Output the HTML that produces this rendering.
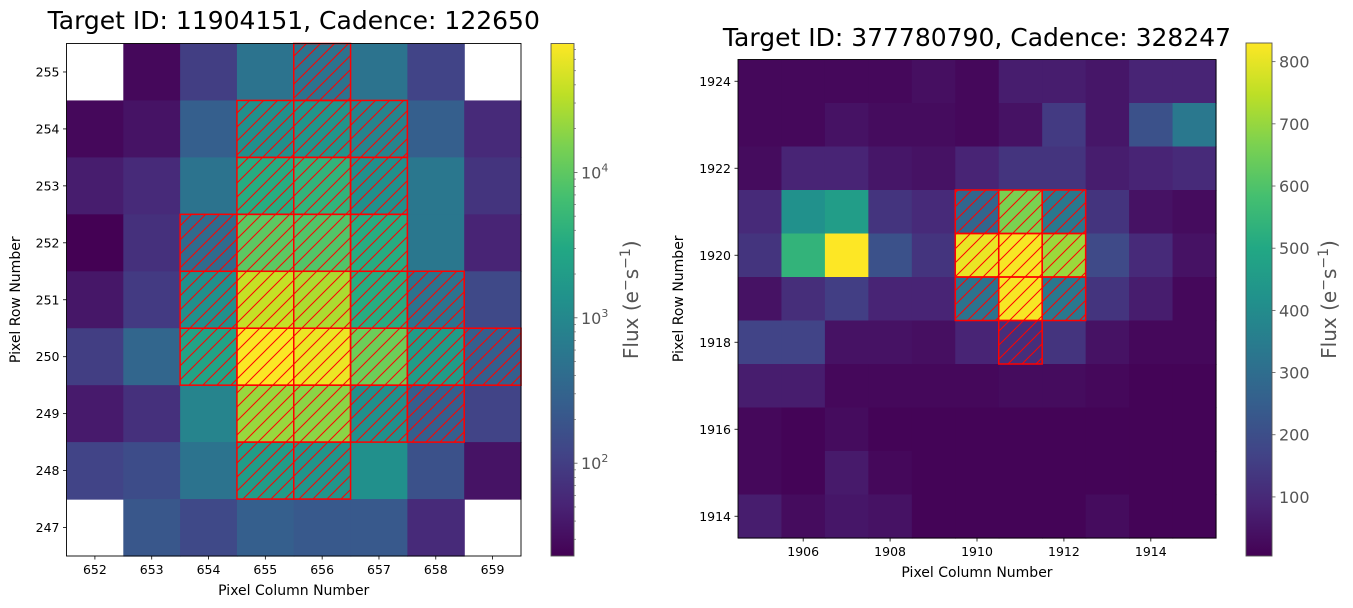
<!DOCTYPE html>
<html><head><meta charset="utf-8">
<style>
html,body{margin:0;padding:0;background:#fff;}
svg{display:block;font-family:"DejaVu Sans","Liberation Sans",sans-serif;}
</style></head>
<body>
<svg id="fig" width="1353" height="608" viewBox="0 0 1353 608" xmlns="http://www.w3.org/2000/svg">
<defs>
<pattern id="hatch" patternUnits="userSpaceOnUse" width="14" height="14">
<path d="M-1,1 L1,-1 M0,14 L14,0 M13,15 L15,13" stroke="#ff0000" stroke-width="1"/>
</pattern>
<linearGradient id="vir" x1="0" y1="1" x2="0" y2="0">
<stop offset="0" stop-color="#440154"/><stop offset="0.1" stop-color="#482475"/><stop offset="0.2" stop-color="#414487"/><stop offset="0.3" stop-color="#355f8d"/><stop offset="0.4" stop-color="#2a788e"/><stop offset="0.5" stop-color="#21918c"/><stop offset="0.6" stop-color="#22a884"/><stop offset="0.7" stop-color="#44bf70"/><stop offset="0.8" stop-color="#7ad151"/><stop offset="0.9" stop-color="#bddf26"/><stop offset="1" stop-color="#fde725"/>
</linearGradient>
</defs>
<g id="left"></g>
<g id="right"></g>
</svg>
<script>
// ---- Left panel data (log scale) ----
const leftCols = [652,653,654,655,656,657,658,659];
const leftRows = [255,254,253,252,251,250,249,248,247];
const leftFlux = [
 [null,27,99,500,500,500,117,null],
 [27,35,260,1300,1530,870,260,61],
 [44,61,500,3400,4400,1300,580,78],
 [23,71,390,9800,8300,3400,580,52],
 [38,91,1300,38000,27800,3400,500,137],
 [99,330,2500,75000,62000,12400,1950,260],
 [41,71,870,21800,18600,1300,260,117],
 [117,148,500,1950,1530,1300,174,35],
 [null,204,137,260,221,221,61,null]
];
const leftMask = [
 [0,0,0,0,1,0,0,0],
 [0,0,0,1,1,1,0,0],
 [0,0,0,1,1,1,0,0],
 [0,0,1,1,1,1,0,0],
 [0,0,1,1,1,1,1,0],
 [0,0,1,1,1,1,1,1],
 [0,0,0,1,1,1,1,0],
 [0,0,0,1,1,0,0,0],
 [0,0,0,0,0,0,0,0]
];
const leftCbTicks = [100,1000,10000];
const leftCbTickLabels = ["10","10","10"];
const leftCbTickExp = ["2","3","4"];
// ---- Right panel data (linear) ----
const rightCols = [1905,1906,1907,1908,1909,1910,1911,1912,1913,1914,1915];
const rightRows = [1924,1923,1922,1921,1920,1919,1918,1917,1916,1915,1914];
const rightFlux = [
 [22,22,22,22,38,22,71,71,55,88,88],
 [22,22,46,30,30,22,46,145,55,211,335],
 [30,88,88,55,46,88,129,129,71,88,104],
 [104,418,459,129,104,277,665,335,129,46,30],
 [129,541,830,211,129,805,822,706,187,104,46],
 [46,112,154,88,88,319,822,335,129,71,22],
 [170,170,46,46,38,88,112,129,46,22,22],
 [71,71,22,22,22,22,30,30,22,13,13],
 [22,13,30,13,13,13,13,13,13,13,13],
 [22,13,63,22,13,13,13,13,13,13,13],
 [71,30,55,46,13,13,13,13,30,13,13]
];
const rightMask = [
 [0,0,0,0,0,0,0,0,0,0,0],
 [0,0,0,0,0,0,0,0,0,0,0],
 [0,0,0,0,0,0,0,0,0,0,0],
 [0,0,0,0,0,1,1,1,0,0,0],
 [0,0,0,0,0,1,1,1,0,0,0],
 [0,0,0,0,0,1,1,1,0,0,0],
 [0,0,0,0,0,0,1,0,0,0,0],
 [0,0,0,0,0,0,0,0,0,0,0],
 [0,0,0,0,0,0,0,0,0,0,0],
 [0,0,0,0,0,0,0,0,0,0,0],
 [0,0,0,0,0,0,0,0,0,0,0]
];
const rightXTicks = [1906,1908,1910,1912,1914];
const rightYTicks = [1924,1922,1920,1918,1916,1914];
const rightCbTicks = [100,200,300,400,500,600,700,800];

const NS="http://www.w3.org/2000/svg";
const VS=["#440154","#482475","#414487","#355f8d","#2a788e","#21918c","#22a884","#44bf70","#7ad151","#bddf26","#fde725"];
function hex(h){return [parseInt(h.substr(1,2),16),parseInt(h.substr(3,2),16),parseInt(h.substr(5,2),16)];}
function viridis(t){t=Math.max(0,Math.min(1,t));const f=t*10;const i=Math.min(9,Math.floor(f));const u=f-i;const a=hex(VS[i]),b=hex(VS[i+1]);
 return "rgb("+a.map((v,k)=>Math.round(v+(b[k]-v)*u)).join(",")+")";}
function el(tag,attrs,parent,txt){const e=document.createElementNS(NS,tag);for(const k in attrs)e.setAttribute(k,attrs[k]);if(txt!==undefined)e.textContent=txt;parent.appendChild(e);return e;}

function panel(g,o){
 const nC=o.cols.length,nR=o.rows.length;
 const cw=(o.x1-o.x0)/nC, rh=(o.y1-o.y0)/nR;
 const xs=v=>o.x0+(v-o.cols[0]+0.5)*cw;
 const ys=v=>o.y0+(o.rows[0]-v+0.5)*rh;
 o.data.forEach((row,r)=>row.forEach((v,c)=>{
  if(v===null)return;
  const cell=el("rect",{x:(xs(o.cols[c])-cw/2).toFixed(2),y:(ys(o.rows[r])-rh/2).toFixed(2),width:(cw+0.6).toFixed(2),height:(rh+0.6).toFixed(2),fill:viridis(o.norm(v))},g);
  
  
 }));
 o.mask.forEach((row,r)=>row.forEach((m,c)=>{
  if(!m)return;
  const x=xs(o.cols[c])-cw/2,y=ys(o.rows[r])-rh/2;
  const hm=el("rect",{x:x,y:y,width:cw,height:rh,fill:"url(#hatch)",stroke:"#ff0000","stroke-width":1.5},g);
  
  
 }));
 const frame=el("rect",{x:o.x0,y:o.y0,width:o.x1-o.x0,height:o.y1-o.y0,fill:"none",stroke:"#000","stroke-width":0.9},g);
 
 
 o.xt.forEach(v=>{const x=xs(v);
  el("line",{x1:x,y1:o.y1,x2:x,y2:o.y1+3.5,stroke:"#000","stroke-width":0.8},g);
  const t=el("text",{x:x,y:o.y1+18,"font-size":12.5,"text-anchor":"middle",fill:"#000"},g,String(v));
  
  
 });
 o.yt.forEach(v=>{const y=ys(v);
  el("line",{x1:o.x0-3.5,y1:y,x2:o.x0,y2:y,stroke:"#000","stroke-width":0.8},g);
  const t=el("text",{x:o.x0-7,y:y+4.5,"font-size":12.5,"text-anchor":"end",fill:"#000"},g,String(v));
  
  
 });
 const xl=el("text",{x:(o.x0+o.x1)/2,y:o.y1+39,"font-size":14,"text-anchor":"middle"},g,"Pixel Column Number");
 
 
 const yx=o.ylx,yy=(o.y0+o.y1)/2;
 const yl=el("text",{x:yx,y:yy,"font-size":14,"text-anchor":"middle",transform:"rotate(-90 "+yx+" "+yy+")"},g,"Pixel Row Number");
 
 
 const ti=el("text",{x:(o.x0+o.x1)/2,y:o.titleY,"font-size":25,"text-anchor":"middle"},g,o.title);
 
 
 // colorbar
 const cb=el("rect",{x:o.cbx,y:o.cby0,width:o.cbw,height:o.cby1-o.cby0,fill:"url(#vir)",stroke:"#555","stroke-width":0.9},g);
 
 
 const cys=v=>o.cby1-o.norm(v)*(o.cby1-o.cby0);
 (o.minor||[]).forEach(v=>{const y=cys(v);if(y<o.cby0||y>o.cby1)return;
  el("line",{x1:o.cbx+o.cbw,y1:y,x2:o.cbx+o.cbw+2,y2:y,stroke:"#555","stroke-width":0.6},g);});
 o.cbt.forEach((v,i)=>{const y=cys(v);
  el("line",{x1:o.cbx+o.cbw,y1:y,x2:o.cbx+o.cbw+3.5,y2:y,stroke:"#555","stroke-width":0.8},g);
  const t=el("text",{x:o.cbx+o.cbw+7,y:y+6,"font-size":16,fill:"#555"},g,o.cbl[i]);
  if(o.cbe){el("tspan",{dy:-7,"font-size":11},t,o.cbe[i]);}
  
  
 });
 const lx=o.cblx,ly=(o.cby0+o.cby1)/2;
 const cl=el("text",{x:lx,y:ly,"font-size":20,fill:"#555","text-anchor":"middle",transform:"rotate(-90 "+lx+" "+ly+")"},g);
 cl.textContent="Flux (e";
 el("tspan",{dy:-8,"font-size":14},cl,"\u2212");
 el("tspan",{dy:8,"font-size":20},cl,"s");
 el("tspan",{dy:-8,"font-size":14},cl,"\u22121");
 el("tspan",{dy:8,"font-size":20},cl,")");
 
 
}
const lmin=Math.log10(23),lmax=Math.log10(77000);
const minorL=[];[10,100,1000,10000].forEach(d=>{for(let k=2;k<10;k++)minorL.push(d*k);});
panel(document.getElementById("left"),{cols:leftCols,rows:leftRows,data:leftFlux,mask:leftMask,
 x0:66.5,x1:521,y0:43.5,y1:556,norm:v=>(Math.log10(v)-lmin)/(lmax-lmin),
 xt:leftCols,yt:leftRows,ylx:20,titleY:29,title:"Target ID: 11904151, Cadence: 122650",
 cbx:551,cbw:23,cby0:43.5,cby1:556,cbt:leftCbTicks,cbl:leftCbTickLabels,cbe:leftCbTickExp,minor:minorL,cblx:638});
panel(document.getElementById("right"),{cols:rightCols,rows:rightRows,data:rightFlux,mask:rightMask,
 x0:738,x1:1216,y0:59.5,y1:538,norm:v=>(v-5)/(830-5),
 xt:rightXTicks,yt:rightYTicks,ylx:683,titleY:46,title:"Target ID: 377780790, Cadence: 328247",
 cbx:1246,cbw:26,cby0:43,cby1:556,cbt:rightCbTicks,cbl:rightCbTicks.map(String),cblx:1336});
</script>
</body></html>
